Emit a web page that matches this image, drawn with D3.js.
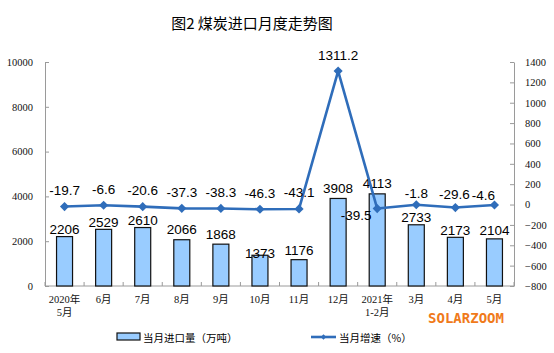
<!DOCTYPE html>
<html><head><meta charset="utf-8">
<script src="https://cdn.jsdelivr.net/npm/d3@7"></script>
<style>
html,body{margin:0;padding:0;background:#fff;}
svg{display:block;}
</style></head>
<body>
<svg id="c" width="554" height="353"></svg>
<script>
const categories = [["2020年","5月"],["6月"],["7月"],["8月"],["9月"],["10月"],["11月"],["12月"],["2021年","1-2月"],["3月"],["4月"],["5月"]];
const imports = [2206, 2529, 2610, 2066, 1868, 1373, 1176, 3908, 4113, 2733, 2173, 2104];
const growth = [-19.7, -6.6, -20.6, -37.3, -38.3, -46.3, -43.1, 1311.2, -39.5, -1.8, -29.6, -4.6];
const leftTicks = [0, 2000, 4000, 6000, 8000, 10000];
const rightTicks = [-800, -600, -400, -200, 0, 200, 400, 600, 800, 1000, 1200, 1400];
const title = "图2 煤炭进口月度走势图";
const legendBar = "当月进口量（万吨）";
const legendLine = "当月增速（%）";

// label layout tweaks (pixel offsets, not data)
const barLabelGap = [7,7,7,10,10,2,9,10,10,7,7,8];
const lineLabelDx = [0,0,0,0,0,0,0,0,-21,0,-1,-11];
const lineLabelDy = [-16,-16,-16,-16,-16,-16,-16,-16,7,-11,-13,-10];

const svg = d3.select("#c");
const keys = categories.map((c,i)=>i);
const x = d3.scaleBand().domain(keys).range([45,514]);
const yL = d3.scaleLinear().domain([0,10000]).range([286,62]);
const yR = d3.scaleLinear().domain([-800,1400]).range([286,62]);
const numFont = "'Liberation Serif','Noto Sans CJK SC',serif";
const cjk = "'Noto Sans CJK SC','Liberation Sans',sans-serif";
const lab = "'Liberation Sans',Arial,sans-serif";
const axisColor = "#9a9a9a";
const lineColor = "#2f6dba";

// title
svg.append("text").attr("x",252).attr("y",22).attr("text-anchor","middle")
  .attr("dominant-baseline","central").style("font-family",cjk).style("font-size","15px")
  .style("white-space","pre").attr("xml:space","preserve")
  .attr("fill","#000").text(title);

// left axis
const gl = svg.append("g").attr("transform","translate(45,0)")
  .call(d3.axisLeft(yL).tickValues(leftTicks).tickSizeInner(-4).tickSizeOuter(0).tickPadding(12).tickFormat(d3.format("d")));
// right axis
const gr = svg.append("g").attr("transform","translate(514,0)")
  .call(d3.axisRight(yR).tickValues(rightTicks).tickSizeInner(-4).tickSizeOuter(0).tickPadding(11).tickFormat(d3.format("d")));
[gl,gr].forEach(g=>{
  g.select(".domain").attr("stroke",axisColor);
  g.selectAll(".tick line").attr("stroke",axisColor);
  g.selectAll(".tick text").style("font-family",numFont).style("font-size","10.5px").attr("fill","#111");
});

// bottom axis
svg.append("line").attr("x1",45).attr("x2",514).attr("y1",yL(0)).attr("y2",yL(0)).attr("stroke",axisColor);
const bounds = keys.map(k=>x(k)).concat([x.range()[1]]);
svg.selectAll(".xt").data(bounds).join("line").attr("class","xt")
  .attr("x1",d=>d).attr("x2",d=>d).attr("y1",yL(0)).attr("y2",yL(0)-4).attr("stroke",axisColor);
const ct = svg.selectAll(".cat").data(categories).join("text").attr("class","cat")
  .attr("text-anchor","middle").style("font-family",numFont).style("font-size","10.5px").attr("fill","#111");
ct.each(function(d,i){
  const t = d3.select(this);
  d.forEach((s,j)=>{
    t.append("tspan").attr("x",x(i)+x.bandwidth()/2).attr("y",303+j*12.5).text(s);
  });
});

// bars
const bw = 16;
svg.selectAll(".bar").data(imports).join("rect").attr("class","bar")
  .attr("x",(d,i)=>x(i)+x.bandwidth()/2-bw/2).attr("width",bw)
  .attr("y",d=>yL(d)).attr("height",d=>yL(0)-yL(d))
  .attr("fill","#99ccff").attr("stroke","#111").attr("stroke-width",1.2);
svg.selectAll(".blab").data(imports).join("text").attr("class","blab")
  .attr("x",(d,i)=>x(i)+x.bandwidth()/2).attr("y",(d,i)=>yL(d)-barLabelGap[i])
  .attr("text-anchor","middle").attr("dominant-baseline","central")
  .style("font-family",lab).style("font-size","13.5px").attr("fill","#000").text(d=>d);

// line
const line = d3.line().x((d,i)=>x(i)+x.bandwidth()/2).y(d=>yR(d));
svg.append("path").datum(growth).attr("d",line).attr("fill","none")
  .attr("stroke",lineColor).attr("stroke-width",2.6).attr("stroke-linejoin","round");
const diamond = d3.symbol(d3.symbolSquare, 42);
svg.selectAll(".mk").data(growth).join("path").attr("class","mk").attr("d",diamond)
  .attr("transform",(d,i)=>`translate(${x(i)+x.bandwidth()/2},${yR(d)}) rotate(45)`)
  .attr("fill",lineColor);
svg.selectAll(".llab").data(growth).join("text").attr("class","llab")
  .attr("x",(d,i)=>x(i)+x.bandwidth()/2+lineLabelDx[i]).attr("y",(d,i)=>yR(d)+lineLabelDy[i])
  .attr("text-anchor","middle").attr("dominant-baseline","central")
  .style("font-family",lab).style("font-size","13.5px").attr("fill","#000").text(d=>d3.format(".1f")(d).replace("−","-"));

// watermark
svg.append("text").attr("x",428).attr("y",318).attr("dominant-baseline","central")
  .style("font-family","'DejaVu Sans Mono',monospace").style("font-size","14px").style("font-weight","bold")
  .attr("fill","#f07a1a").attr("textLength",76).attr("lengthAdjust","spacingAndGlyphs").text("SOLARZOOM");

// legend
svg.append("rect").attr("x",117).attr("y",333).attr("width",23).attr("height",7)
  .attr("fill","#99ccff").attr("stroke","#111").attr("stroke-width",1.2);
svg.append("text").attr("x",143).attr("y",337).attr("dominant-baseline","central")
  .style("font-family",cjk).style("font-size","10.5px").attr("fill","#000").text(legendBar);
svg.append("line").attr("x1",311).attr("x2",336).attr("y1",337).attr("y2",337)
  .attr("stroke",lineColor).attr("stroke-width",2.6);
svg.append("path").attr("d",d3.symbol(d3.symbolSquare,14)).attr("transform","translate(323.5,337) rotate(45)").attr("fill",lineColor);
svg.append("text").attr("x",339).attr("y",337).attr("dominant-baseline","central")
  .style("font-family",cjk).style("font-size","10.5px").attr("fill","#000").text(legendLine);
</script>
</body></html>
